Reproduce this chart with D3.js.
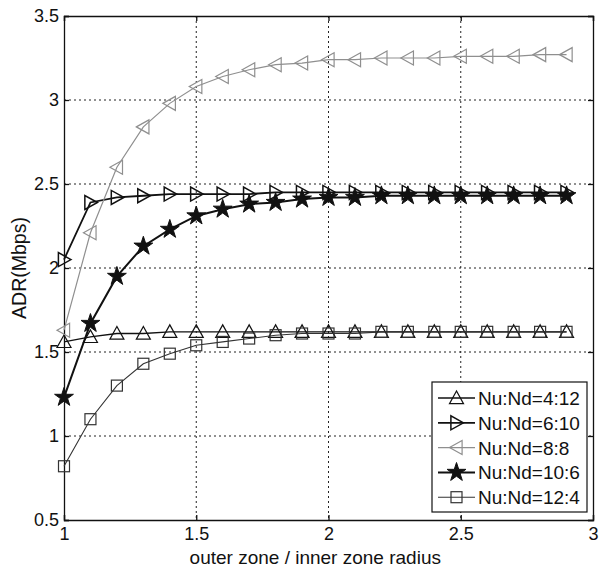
<!DOCTYPE html>
<html>
<head>
<meta charset="utf-8">
<script src="https://cdn.jsdelivr.net/npm/d3@7"></script>
<style>
  body { margin: 0; background: #fff; }
  text { font-family: "Liberation Sans", Arial, sans-serif; fill: #111; }
</style>
</head>
<body>
<script>
// x values: outer zone / inner zone radius
const radius = [1, 1.1, 1.2, 1.3, 1.4, 1.5, 1.6, 1.7, 1.8, 1.9, 2, 2.1, 2.2, 2.3, 2.4, 2.5, 2.6, 2.7, 2.8, 2.9];
const labels = ["Nu:Nd=4:12", "Nu:Nd=6:10", "Nu:Nd=8:8", "Nu:Nd=10:6", "Nu:Nd=12:4"];
const adr_4_12 = [1.56, 1.59, 1.61, 1.61, 1.62, 1.62, 1.62, 1.62, 1.62, 1.62, 1.62, 1.62, 1.62, 1.62, 1.62, 1.62, 1.62, 1.62, 1.62, 1.62];
const adr_6_10 = [2.05, 2.39, 2.42, 2.43, 2.44, 2.44, 2.44, 2.44, 2.45, 2.45, 2.45, 2.45, 2.45, 2.45, 2.45, 2.45, 2.45, 2.45, 2.45, 2.45];
const adr_8_8 = [1.63, 2.21, 2.6, 2.84, 2.98, 3.08, 3.14, 3.18, 3.21, 3.22, 3.24, 3.24, 3.25, 3.25, 3.25, 3.26, 3.26, 3.26, 3.27, 3.27];
const adr_10_6 = [1.23, 1.67, 1.95, 2.13, 2.23, 2.31, 2.35, 2.38, 2.39, 2.41, 2.42, 2.42, 2.43, 2.43, 2.43, 2.43, 2.43, 2.43, 2.43, 2.43];
const adr_12_4 = [0.82, 1.1, 1.3, 1.43, 1.49, 1.54, 1.56, 1.58, 1.6, 1.61, 1.61, 1.61, 1.62, 1.62, 1.62, 1.62, 1.62, 1.62, 1.62, 1.62];
const xTicks = [1, 1.5, 2, 2.5, 3];
const yTicks = [0.5, 1, 1.5, 2, 2.5, 3, 3.5];

let width = 601, height = 571;
let mLeft = 64, mRight = 593, mTop = 16, mBottom = 520;

let svg = d3.select("body").append("svg")
    .attr("width", width)
    .attr("height", height);

let xScale = d3.scaleLinear().domain([1, 3]).range([mLeft, mRight]);
let yScale = d3.scaleLinear().domain([0.5, 3.5]).range([mBottom, mTop]);

//dotted grid
svg.append("g").selectAll("line").data(xTicks.slice(1, -1)).join("line")
    .attr("x1", d => xScale(d)).attr("x2", d => xScale(d))
    .attr("y1", mTop).attr("y2", mBottom)
    .style("stroke", "#222").style("stroke-width", 1)
    .attr("stroke-dasharray", "2,3");
svg.append("g").selectAll("line").data(yTicks.slice(1, -1)).join("line")
    .attr("x1", mLeft).attr("x2", mRight)
    .attr("y1", d => yScale(d)).attr("y2", d => yScale(d))
    .style("stroke", "#222").style("stroke-width", 1)
    .attr("stroke-dasharray", "2,3");

//axes, ticks pointing inwards
svg.append("g")
    .attr("transform", "translate(0," + mBottom + ")")
    .call(d3.axisBottom(xScale).tickValues(xTicks).tickSize(-5).tickPadding(7).tickFormat(d3.format("")));
svg.append("g")
    .attr("transform", "translate(" + mLeft + ",0)")
    .call(d3.axisLeft(yScale).tickValues(yTicks).tickSize(-5).tickPadding(5).tickFormat(d3.format("")));
svg.append("g")
    .attr("transform", "translate(0," + mTop + ")")
    .call(d3.axisTop(xScale).tickValues(xTicks).tickSize(-5).tickFormat(""));
svg.append("g")
    .attr("transform", "translate(" + mRight + ",0)")
    .call(d3.axisRight(yScale).tickValues(yTicks).tickSize(-5).tickFormat(""));
svg.selectAll(".domain, .tick line").style("stroke", "#111").style("stroke-width", 1.3);
svg.selectAll(".tick text").style("font-size", "18px").style("fill", "#111");

//axis titles
svg.append("text")
    .attr("x", xScale(1.95))
    .attr("y", 564)
    .attr("text-anchor", "middle")
    .style("font-size", "19px")
    .text("outer zone / inner zone radius");
svg.append("text")
    .attr("transform", "translate(26," + 268 + ") rotate(-90)")
    .attr("text-anchor", "middle")
    .style("font-size", "19.5px")
    .text("ADR(Mbps)");

//marker shapes
function drawMarker(g, type, cx, cy, color) {
    let s = 7;
    if (type === "up") {
        g.append("polygon")
            .attr("points", [[cx, cy - s], [cx - s, cy + s * 0.8], [cx + s, cy + s * 0.8]].join(" "))
            .style("fill", "none").style("stroke", color).style("stroke-width", 1.2);
    } else if (type === "right") {
        g.append("polygon")
            .attr("points", [[cx + s, cy], [cx - s * 0.8, cy - s], [cx - s * 0.8, cy + s]].join(" "))
            .style("fill", "none").style("stroke", color).style("stroke-width", 1.5);
    } else if (type === "left") {
        g.append("polygon")
            .attr("points", [[cx - s, cy], [cx + s * 0.8, cy - s], [cx + s * 0.8, cy + s]].join(" "))
            .style("fill", "none").style("stroke", color).style("stroke-width", 1.2);
    } else if (type === "star") {
        g.append("path")
            .attr("d", d3.symbol(d3.symbolStar, 110)())
            .attr("transform", "translate(" + cx + "," + cy + ")")
            .style("fill", color).style("stroke", color).style("stroke-width", 1);
    } else if (type === "square") {
        g.append("rect")
            .attr("x", cx - 5.5).attr("y", cy - 5.5)
            .attr("width", 11).attr("height", 11)
            .style("fill", "none").style("stroke", color).style("stroke-width", 1.2);
    }
}

let series = [
    { name: labels[0], values: adr_4_12, marker: "up", color: "#111", lw: 1.3 },
    { name: labels[1], values: adr_6_10, marker: "right", color: "#111", lw: 1.8 },
    { name: labels[2], values: adr_8_8, marker: "left", color: "#8f8f8f", lw: 1.2 },
    { name: labels[3], values: adr_10_6, marker: "star", color: "#111", lw: 2 },
    { name: labels[4], values: adr_12_4, marker: "square", color: "#333", lw: 1.1 }
];

let valueLine = d3.line()
    .x((d, i) => xScale(radius[i]))
    .y(d => yScale(d));

series.forEach(function (s) {
    let g = svg.append("g");
    g.append("path")
        .datum(s.values)
        .attr("d", valueLine)
        .style("fill", "none")
        .style("stroke", s.color)
        .style("stroke-width", s.lw);
    s.values.forEach(function (v, i) {
        drawMarker(g, s.marker, xScale(radius[i]), yScale(v), s.color);
    });
});

//legend
let lx = 432, ly = 382, lw = 155, lh = 130;
let legend = svg.append("g");
legend.append("rect")
    .attr("x", lx).attr("y", ly)
    .attr("width", lw).attr("height", lh)
    .style("fill", "#fff").style("stroke", "#111").style("stroke-width", 1.2);
series.forEach(function (s, i) {
    let yy = ly + 16 + i * 24.8;
    legend.append("line")
        .attr("x1", lx + 6).attr("x2", lx + 43)
        .attr("y1", yy).attr("y2", yy)
        .style("stroke", s.color).style("stroke-width", s.lw);
    drawMarker(legend, s.marker, lx + 24.5, yy, s.color);
    legend.append("text")
        .attr("x", lx + 46)
        .attr("y", yy + 7)
        .style("font-size", "19px")
        .text(s.name);
});
</script>
</body>
</html>
